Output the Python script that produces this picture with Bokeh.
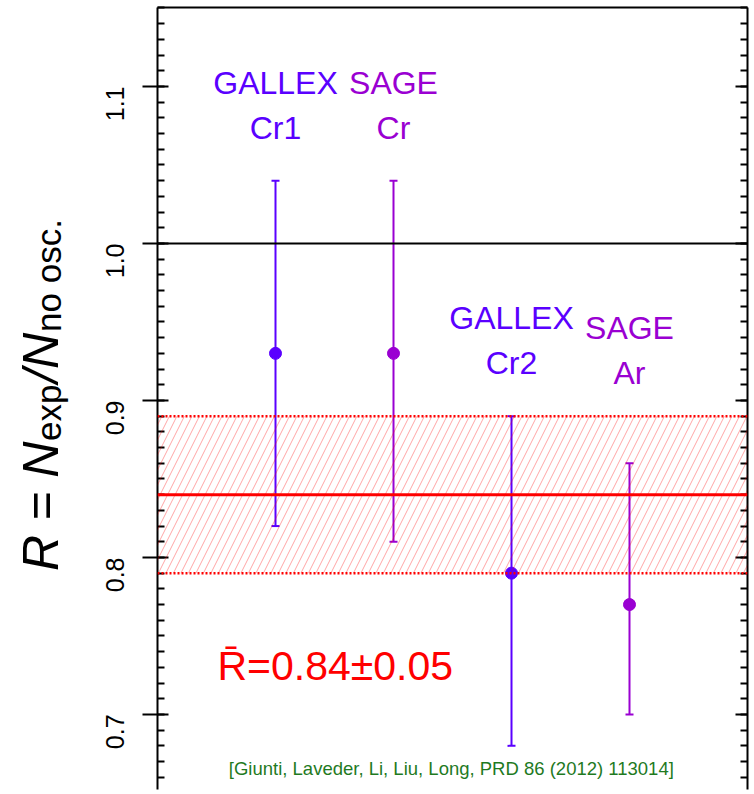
import math
from bokeh.plotting import figure
from bokeh.layouts import row
from bokeh.models import (Range1d, LinearAxis, SingleIntervalTicker, FixedTicker,
                          PrintfTickFormatter, Span, BoxAnnotation, Label, ColumnDataSource)
from bokeh.core.properties import value
from bokeh.embed import file_html
from bokeh.resources import INLINE

# ---------------- data ----------------
label_top = ["GALLEX", "SAGE", "GALLEX", "SAGE"]
label_bottom = ["Cr1", "Cr", "Cr2", "Ar"]
positions = [1, 2, 3, 4]
R_central = [0.93, 0.93, 0.79, 0.77]
R_low = [0.82, 0.81, 0.68, 0.70]
R_high = [1.04, 1.04, 0.89, 0.86]
R_mean = 0.84
R_mean_err = 0.05
no_osc = 1.0
citation = "[Giunti, Laveder, Li, Liu, Long, PRD 86 (2012) 113014]"

# ---------------- styles / layout ----------------
colors = ["#5a00ff", "#9a00d2", "#5a00ff", "#9a00d2"]
top_line_y = [1.1022, 1.1022, 0.9525, 0.9461]
bot_line_y = [1.0735, 1.0735, 0.9238, 0.9174]
SANS = "Liberation Sans"
Y0, Y1 = 0.6522, 1.1503

src = ColumnDataSource(dict(x=positions, r=R_central, lo=R_low, hi=R_high, color=colors,
                            t1=label_top, t2=label_bottom, y1=top_line_y, y2=bot_line_y))

p = figure(frame_width=590, frame_height=782,
           x_range=Range1d(0, 5), y_range=Range1d(Y0, Y1),
           output_backend="svg", toolbar_location=None,
           x_axis_location=None, y_axis_location=None,
           min_border_left=77, min_border_right=3, min_border_top=7, min_border_bottom=1)
p.xgrid.visible = False
p.ygrid.visible = False
p.outline_line_color = None
p.background_fill_color = "white"
p.border_fill_color = "white"

left = LinearAxis(ticker=SingleIntervalTicker(interval=0.1, num_minor_ticks=10),
                  formatter=PrintfTickFormatter(format="%.1f"),
                  major_tick_in=11, major_tick_out=15, minor_tick_in=7, minor_tick_out=0,
                  axis_line_width=2, major_tick_line_width=2, minor_tick_line_width=2,
                  major_label_orientation=math.pi / 2, major_label_standoff=27,
                  major_label_text_font=SANS, major_label_text_font_size="25px",
                  major_label_text_color="black")
p.add_layout(left, "left")

right = LinearAxis(ticker=SingleIntervalTicker(interval=0.1, num_minor_ticks=10),
                   major_tick_in=12, major_tick_out=0, minor_tick_in=7, minor_tick_out=0,
                   axis_line_width=2, major_tick_line_width=2, minor_tick_line_width=2,
                   major_label_text_font_size="1px", major_label_text_color=None,
                   major_label_standoff=0)
p.add_layout(right, "right")

top = LinearAxis(ticker=FixedTicker(ticks=[]), major_tick_in=0, major_tick_out=0,
                 minor_tick_in=0, minor_tick_out=0, axis_line_width=2,
                 major_label_text_font_size="1px", major_label_text_color=None,
                 major_label_standoff=0)
p.add_layout(top, "above")

# band of the mean
band = BoxAnnotation(bottom=R_mean - R_mean_err, top=R_mean + R_mean_err,
                     fill_color=None, fill_alpha=0, line_color=None,
                     hatch_pattern="/", hatch_color="#ff0000", hatch_alpha=0.35,
                     hatch_scale=15, hatch_weight=1)
p.add_layout(band)
for loc in (R_mean - R_mean_err, R_mean + R_mean_err):
    p.add_layout(Span(location=loc, dimension="width", line_color="#ff0000",
                      line_dash="2 2", line_width=2.5))
p.add_layout(Span(location=R_mean, dimension="width", line_color="#ff0000", line_width=3))
p.add_layout(Span(location=no_osc, dimension="width", line_color="black", line_width=2))

# error bars
p.segment(x0="x", y0="lo", x1="x", y1="hi", line_color="color", line_width=2, source=src)
p.scatter(x="x", y="lo", marker="dash", size=8, line_color="color", line_width=2, source=src)
p.scatter(x="x", y="hi", marker="dash", size=8, line_color="color", line_width=2, source=src)
p.scatter(x="x", y="r", marker="circle", size=12, fill_color="color", line_color="color", source=src)

# experiment labels
p.text(x="x", y="y1", text="t1", source=src, text_color="color", text_align="center",
       text_baseline="alphabetic", text_font=value(SANS), text_font_size=value("32px"))
p.text(x="x", y="y2", text="t2", source=src, text_color="color", text_align="center",
       text_baseline="alphabetic", text_font=value(SANS), text_font_size=value("32px"))

p.add_layout(Label(x=0.508, y=0.7306, text="R\u0304=0.84\u00b10.05", text_color="#ff0000",
                   text_font=SANS, text_font_size="41px", text_baseline="alphabetic"))
p.add_layout(Label(x=2.49, y=0.6656, text=citation, text_color="#1f7a1f", text_align="center",
                   text_font=SANS, text_font_size="18.5px", text_baseline="alphabetic"))

# ---- narrow companion plot that holds the rotated y-axis title ----
q = figure(frame_width=80, frame_height=782, x_range=Range1d(0, 80), y_range=Range1d(Y0, Y1),
           output_backend="svg", toolbar_location=None,
           x_axis_location=None, y_axis_location=None,
           min_border_left=0, min_border_right=0, min_border_top=7, min_border_bottom=1)
q.xgrid.visible = False
q.ygrid.visible = False
q.outline_line_color = None
q.background_fill_color = "white"
q.border_fill_color = "white"

pieces = [("R = N", 0.79140, 40, "50px", "italic"),
          ("exp", 0.87420, 48, "35px", "normal"),
          ("/N", 0.91115, 40, "50px", "italic"),
          ("no osc.", 0.94363, 48, "35px", "normal")]
for txt, yy, xx, fs, st in pieces:
    q.add_layout(Label(x=xx, y=yy, text=txt, angle=math.pi / 2,
                       text_font=SANS, text_font_size=fs,
                       text_font_style=st, text_color="black",
                       text_align="left", text_baseline="alphabetic"))

layout = row(q, p)
open("out.html", "w").write(file_html(layout, INLINE))
